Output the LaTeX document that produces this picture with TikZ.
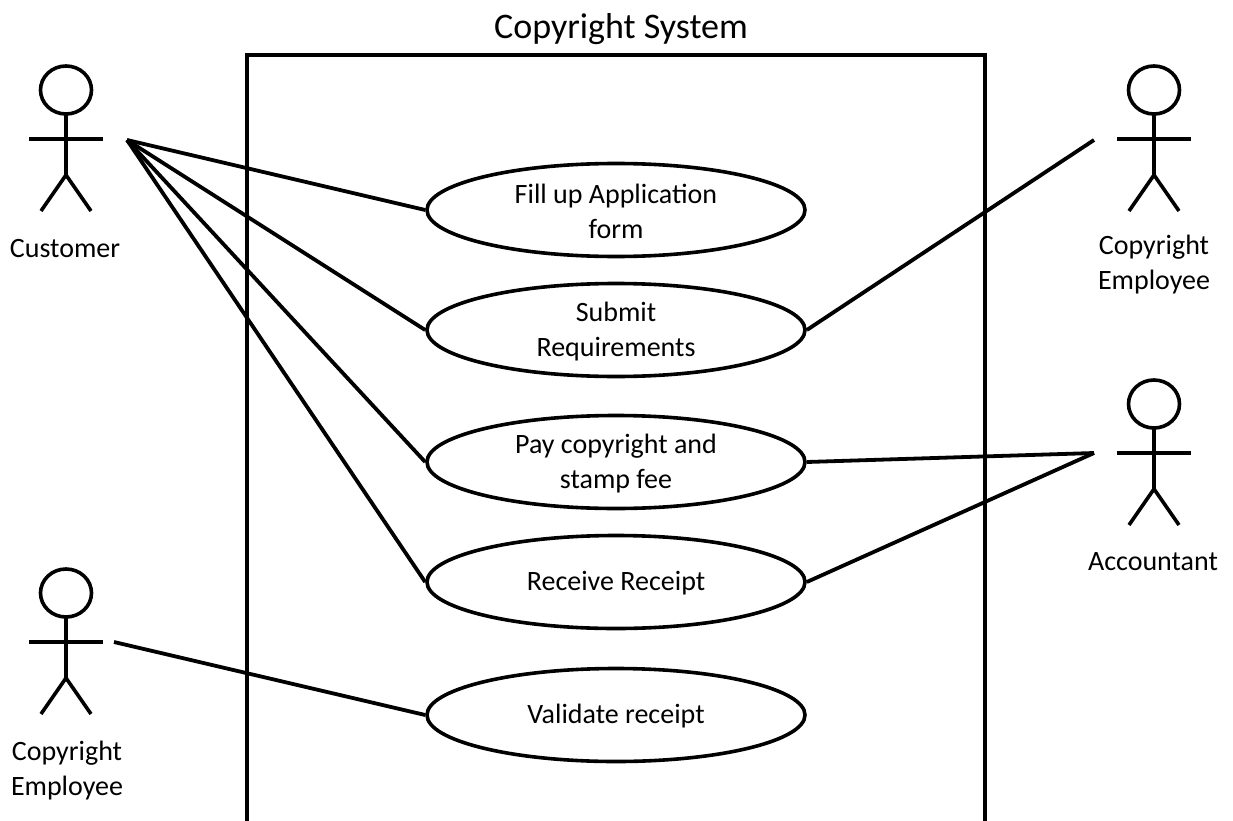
\documentclass[tikz,border=0pt]{standalone}
\usepackage{fontspec}
\setmainfont{Carlito}
\usetikzlibrary{shapes.geometric}
\tikzset{
  uc/.style={draw=black,line width=3.6pt,ellipse,minimum width=378pt,minimum height=93pt,inner sep=0pt},
  lbl/.style={align=center,font=\fontsize{28}{35}\selectfont,inner sep=0pt},
  ttl/.style={align=center,font=\fontsize{36}{40}\selectfont,inner sep=0pt},
  lnk/.style={draw=black,line width=3.8pt},
  act/.style={draw=black,line width=3.6pt},
  arm/.style={draw=black,line width=4.6pt},
  frame/.style={draw=black,line width=3.8pt},
}
\begin{document}
\begin{tikzpicture}[x=1pt,y=-1pt,line join=miter]
\useasboundingbox (0,0) rectangle (1233,821);
\fill[white] (0,0) rectangle (1233,821);
\draw[frame] (247,830) -- (247,55) -- (985,55) -- (985,830);
\node[ttl] (title) at (621,29) {Copyright System};
\node[uc] (u1) at (616,210) {};
\node[uc] (u2) at (616,330) {};
\node[uc] (u3) at (616,462) {};
\node[uc] (u4) at (616,582) {};
\node[uc] (u5) at (616,715) {};
\node[lbl] (t1) at (616,211) {Fill up Application\\form};
\node[lbl] (t2) at (616,332) {Submit\\Requirements};
\node[lbl] (t3) at (616,464) {Pay copyright and\\stamp fee};
\node[lbl] (t4) at (616,583) {Receive Receipt};
\node[lbl] (t5) at (616,716) {Validate receipt};
\coordinate (c) at (127,140);
\coordinate (ce) at (1094,140);
\coordinate (a) at (1094,453);
\coordinate (e) at (114,642);
\draw[lnk] (c) -- (u1.west);
\draw[lnk] (c) -- (u2.west);
\draw[lnk] (c) -- (u3.west);
\draw[lnk] (c) -- (u4.west);
\draw[lnk] (ce) -- (u2.east);
\draw[lnk] (a) -- (u3.east);
\draw[lnk] (a) -- (u4.east);
\draw[lnk] (e) -- (u5.west);
\foreach \x/\yy in {66/139,1154/139,1154/453,66/642}{
  \draw[act] (\x,\yy-49) ellipse [x radius=25.5,y radius=24];
  \draw[act] (\x,\yy-25) -- (\x,\yy+36);
  \draw[arm] (\x-37,\yy) -- (\x+37,\yy);
  \draw[act] (\x-25,\yy+72) -- (\x,\yy+36) -- (\x+25,\yy+72);
}
\node[lbl] (l1) at (65,249) {Customer};
\node[lbl] (l2) at (1154,265) {Copyright\\Employee};
\node[lbl] (l3) at (1153,562) {Accountant};
\node[lbl] (l4) at (67,771) {Copyright\\Employee};
\end{tikzpicture}
\end{document}
